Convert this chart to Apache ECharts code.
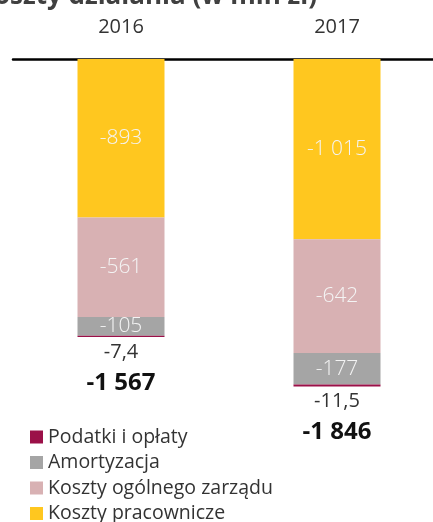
<!DOCTYPE html>
<html>
<head>
<meta charset="utf-8">
<script src="https://cdn.jsdelivr.net/npm/echarts@6/dist/echarts.min.js"></script>
<style>
  html, body { margin: 0; padding: 0; background: #fff; }
  #main { width: 433px; height: 522px; }
</style>
</head>
<body>
<div id="main"></div>
<script>
var years = ['2016', '2017'];
var pracownicze = [-893, -1015];
var zarzad = [-561, -642];
var amortyzacja = [-105, -177];
var podatki = [-7.4, -11.5];
var totals = ['-1 567', '-1 846'];

var font = 'Open Sans';

function fmt(v) {
  // polski zapis: spacja tysięcy, przecinek dziesiętny
  var s = String(Math.abs(v)).replace('.', ',');
  s = s.replace(/\B(?=(\d{3})+(?!\d))/g, ' ');
  return '-' + s;
}

var myChart = echarts.init(document.getElementById('main'));

var insideLabel = {
  show: true,
  position: 'inside',
  color: '#f4f4f4',
  fontFamily: font,
  fontSize: 21,
  fontWeight: 300,
  formatter: function (p) { return fmt(p.value); }
};

var option = {
  animation: false,
  title: {
    text: 'Koszty działania (w mln zł)',
    left: 312,
    textAlign: 'right',
    top: -21,
    textStyle: { fontFamily: font, fontSize: 26, fontWeight: 'bold', color: '#404040' }
  },
  legend: {
    orient: 'vertical',
    left: 30,
    top: 427,
    height: 120,
    padding: 0,
    itemWidth: 13,
    itemHeight: 13,
    itemGap: 5.5,
    icon: 'rect',
    textStyle: { fontFamily: font, fontSize: 19.5, color: '#333' },
    data: ['Podatki i opłaty', 'Amortyzacja', 'Koszty ogólnego zarządu', 'Koszty pracownicze']
  },
  grid: { left: 13, right: -12, top: 59, height: 355, outerBoundsMode: 'none', containLabel: false },
  xAxis: {
    type: 'category',
    position: 'top',
    data: years,
    axisLine: { lineStyle: { color: '#000', width: 2.5 } },
    axisTick: { show: false },
    axisLabel: { margin: 22, fontFamily: font, fontSize: 20, color: '#333' }
  },
  yAxis: {
    type: 'value',
    min: -2000,
    max: 0,
    show: false,
    splitLine: { show: false }
  },
  series: [
    {
      name: 'Koszty pracownicze',
      type: 'bar',
      stack: 'koszty',
      barWidth: 87,
      data: pracownicze,
      itemStyle: { color: '#FFC71F' },
      label: insideLabel
    },
    {
      name: 'Koszty ogólnego zarządu',
      type: 'bar',
      stack: 'koszty',
      data: zarzad,
      itemStyle: { color: '#D8B1B3' },
      label: insideLabel
    },
    {
      name: 'Amortyzacja',
      type: 'bar',
      stack: 'koszty',
      data: amortyzacja,
      itemStyle: { color: '#A5A5A5' },
      label: insideLabel
    },
    {
      name: 'Podatki i opłaty',
      type: 'bar',
      stack: 'koszty',
      data: podatki,
      itemStyle: { color: '#9B1048' },
      label: {
        show: true,
        position: 'bottom',
        distance: 2,
        fontFamily: font,
        formatter: function (p) {
          return '{a|' + fmt(p.value) + '}\n{b|' + totals[p.dataIndex] + '}';
        },
        rich: {
          a: { fontFamily: font, fontSize: 20, color: '#333', lineHeight: 26 },
          b: { fontFamily: font, fontSize: 24, fontWeight: 'bold', color: '#111', lineHeight: 36 }
        }
      }
    }
  ]
};

myChart.setOption(option);
</script>
</body>
</html>
